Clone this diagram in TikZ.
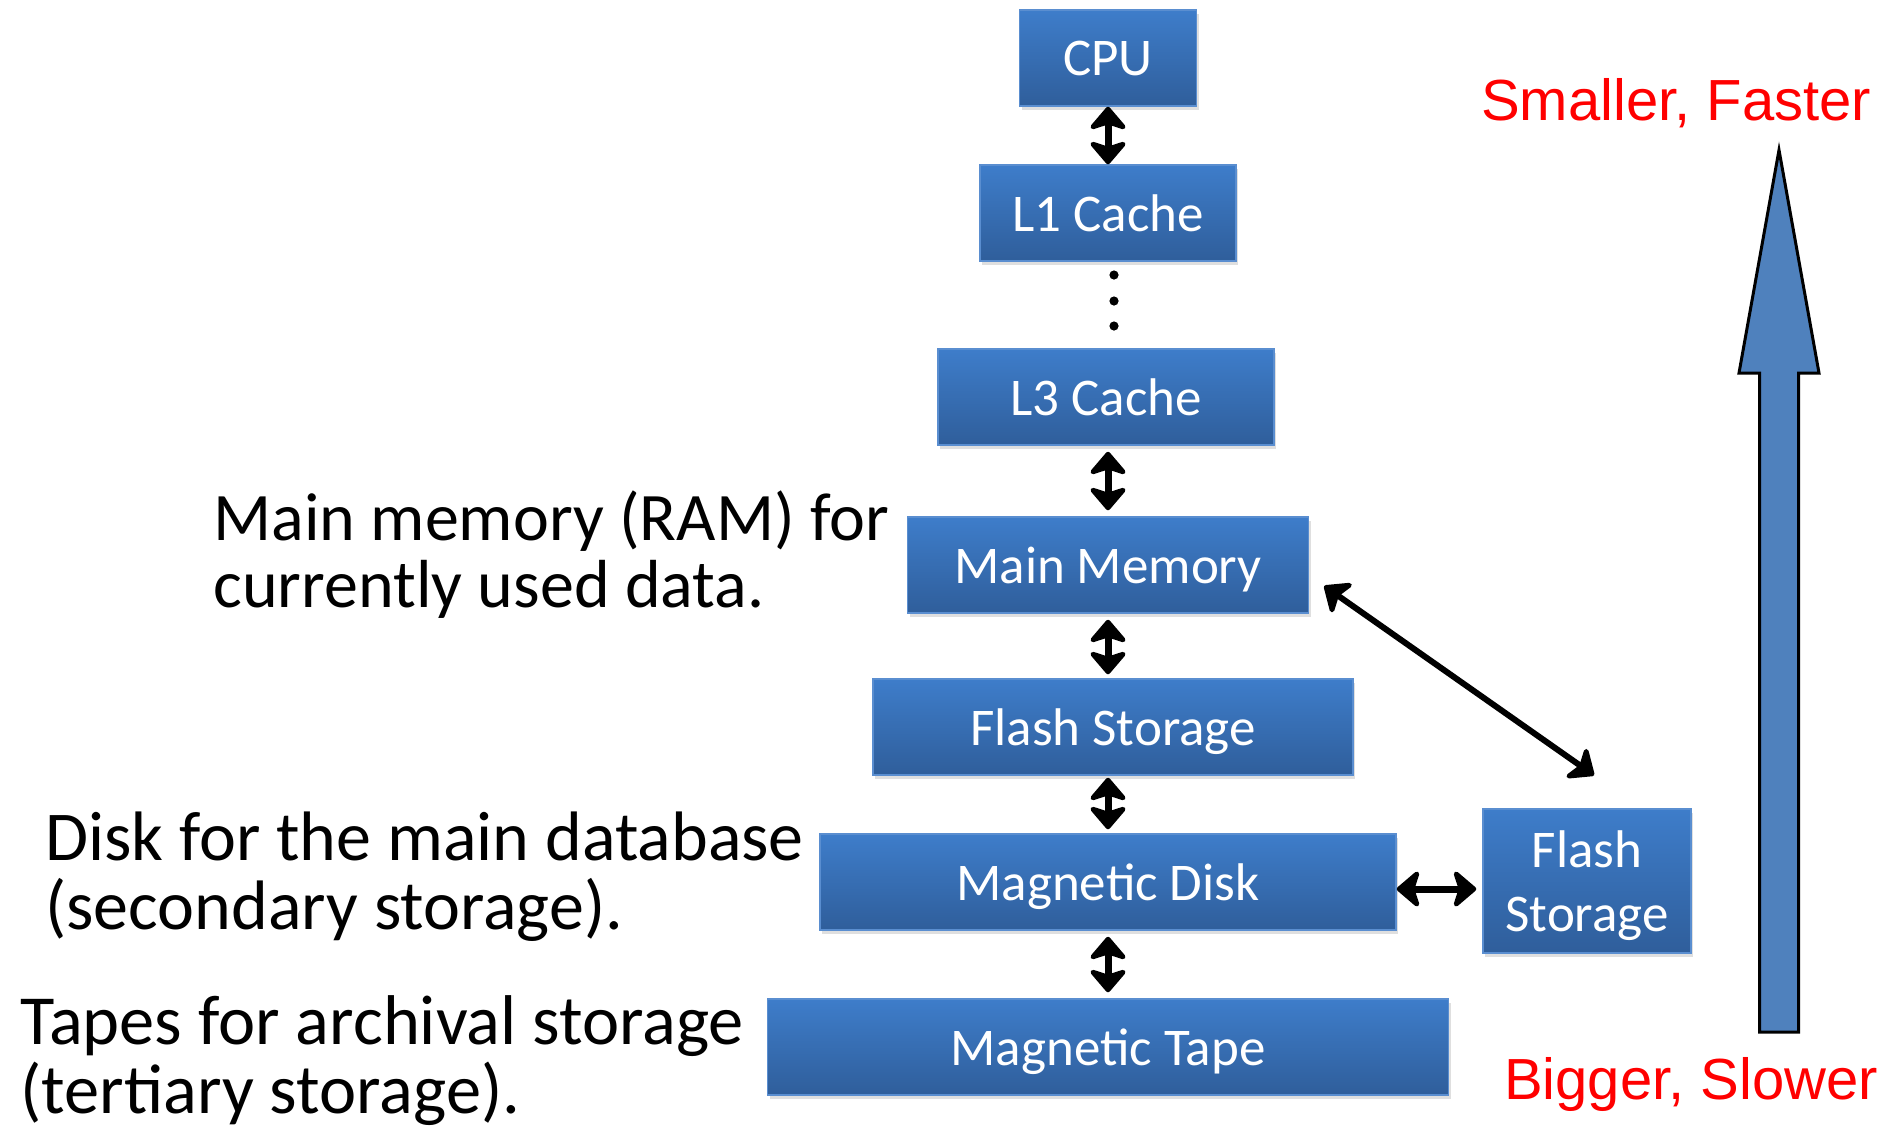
\documentclass[tikz,border=0pt]{standalone}
\usepackage{fontspec}
\setmainfont{Carlito}
\newfontfamily\arialfont{Liberation Sans}
\usetikzlibrary{arrows.meta,calc,shadows}

\definecolor{boxtop}{HTML}{3E7DCA}
\definecolor{boxbot}{HTML}{2F5E9B}
\definecolor{boxline}{HTML}{5A8ED0}
\definecolor{bigarrow}{HTML}{4F81BD}

\def\colx{1108}
\def\tip{Stealth[length=13pt,width=22pt,inset=3.5pt,round]}

\tikzset{
  level/.style={draw=boxline, line width=0.75pt, top color=boxtop, bottom color=boxbot,
    text=white, minimum height=48pt, inner sep=0pt, align=center, text depth=0pt,
    font=\fontsize{26.5}{32}\selectfont,
    drop shadow={shadow xshift=1pt,shadow yshift=-2pt,opacity=.25}},
  link/.style={{\tip}-{\tip}, line width=3.5pt},
  note/.style={align=left, inner sep=0pt, anchor=base west, font=\fontsize{34}{33.5}\selectfont},
  speed/.style={text=red, inner sep=0pt, anchor=base, font=\arialfont\fontsize{29}{30}\selectfont}
}

\begin{document}
\begin{tikzpicture}[x=0.5pt,y=-0.5pt]
  \useasboundingbox (0,0) rectangle (1886,1132);

  % storage levels, fastest on top
  \node[level, minimum width=88.5pt] (cpu) at (\colx,58) {CPU};
  \node[level, minimum width=128pt] (l1) at (\colx,213) {L1 Cache};
  \node[level, minimum width=168pt] (l3) at (1106,397) {L3 Cache};
  \node[level, minimum width=200.5pt] (main) at (\colx,565) {Main Memory};
  \node[level, minimum width=240pt] (flash) at (1113,727) {Flash Storage};
  \node[level, minimum width=288pt] (disk) at (\colx,882) {Magnetic Disk};
  \node[level, minimum width=340.5pt] (tape) at (\colx,1047) {Magnetic Tape};
  \node[level, minimum width=104pt, minimum height=72pt] (flashr) at (1587,881) {Flash\\Storage};

  % the levels skipped between L1 and L3
  \foreach \y in {275,301,326}
    \fill (1114,\y) circle (2.3pt);

  \draw[link] (cpu) -- (l1);
  \draw[link, shorten <=3pt, shorten >=3pt] (l3.south -| main.north) -- (main.north);
  \draw[link, shorten <=3pt, shorten >=2pt] (main.south) -- (main.south |- flash.north);
  \draw[link, shorten <=1pt, shorten >=2pt] (disk.north |- flash.south) -- (disk.north);
  \draw[link, shorten <=3pt, shorten >=3pt] (disk) -- (tape);
  \draw[link, shorten >=3pt] ([yshift=-3.5pt]disk.east) -- ([yshift=-3.5pt]flashr.west |- disk.east);
  \draw[link, line width=3pt] ($(main.east)+(15,21)$) -- ($(flashr.north)+(7,-33)$);

  % what each level is used for
  \node[note] (ramnote) at (213,607) {Main memory (RAM) for\\currently used data.};
  \node[note, font=\fontsize{35}{34.5}\selectfont] (disknote) at (45,929) {Disk for the main database\\(secondary storage).};
  \node[note, font=\fontsize{35.2}{34.5}\selectfont] (tapenote) at (20,1113) {Tapes for archival storage\\(tertiary storage).};

  % speed / size scale
  \coordinate (base) at (1779,1032);
  \coordinate (top) at (1779,150);
  \draw[line width=1.5pt, fill=bigarrow]
    ($(base)+(-19.5,0)$) -- (1759.5,373) -- (1739,373) -- (top)
    -- (1819,373) -- (1798.5,373) -- ($(base)+(19.5,0)$) -- cycle;
  \node[speed] (fast) at (1676,120) {Smaller, Faster};
  \node[speed] (slow) at (1691,1099) {Bigger, Slower};
\end{tikzpicture}
\end{document}
